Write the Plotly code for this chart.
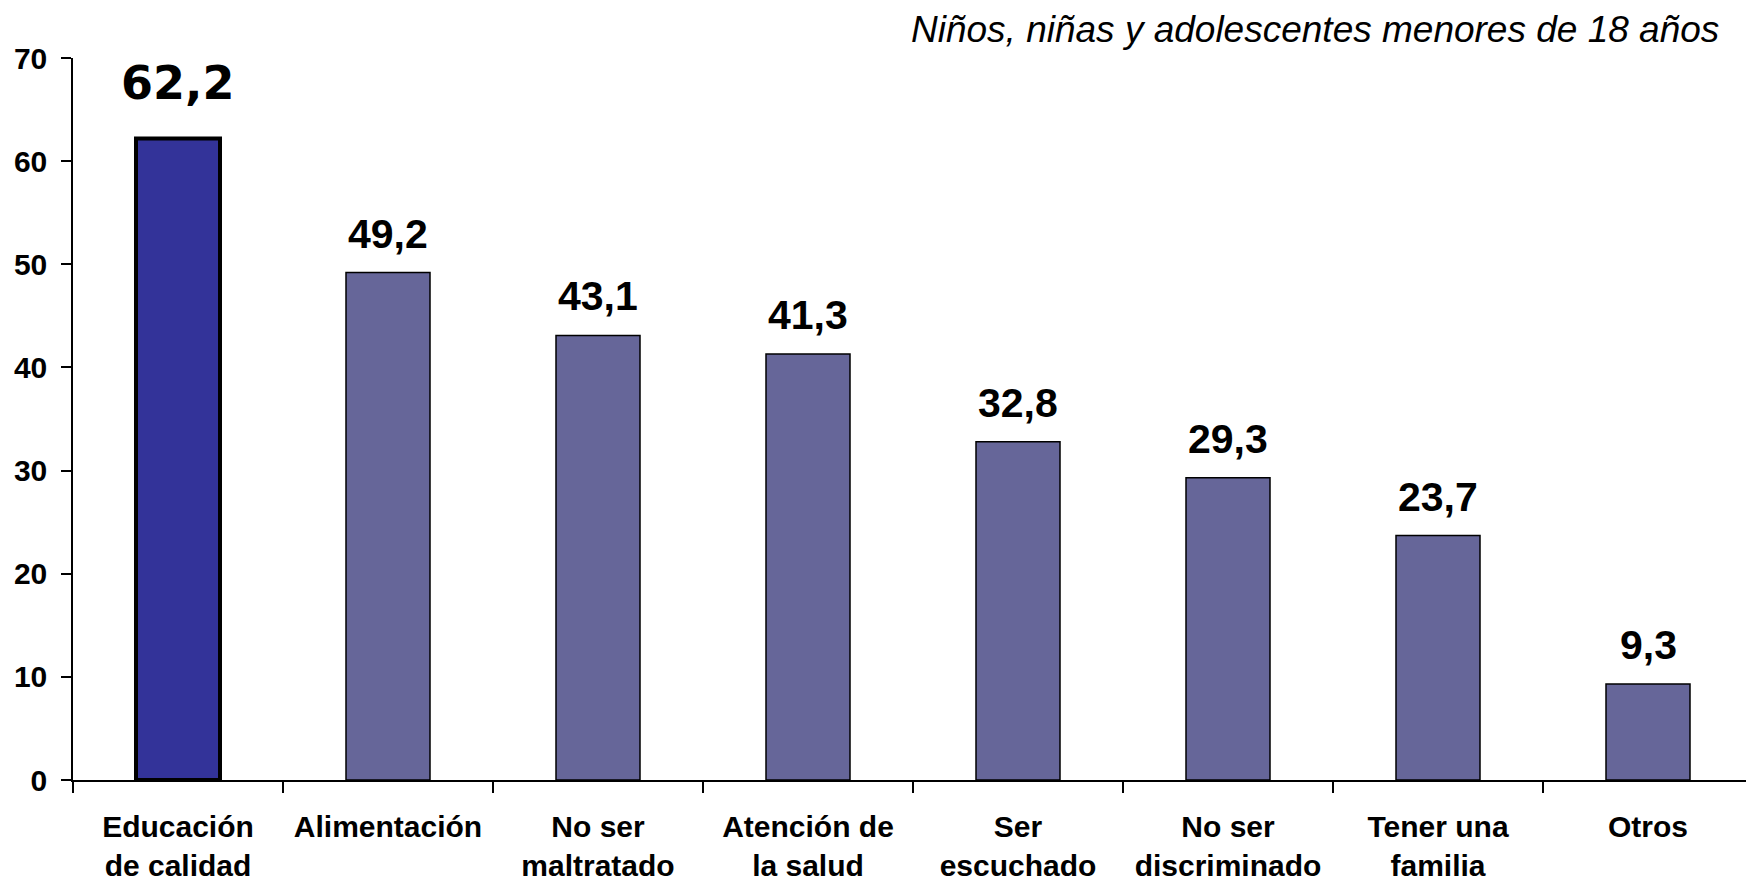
import plotly.graph_objects as go

categories = [
    "Educación<br>de calidad",
    "Alimentación",
    "No ser<br>maltratado",
    "Atención de<br>la salud",
    "Ser<br>escuchado",
    "No ser<br>discriminado",
    "Tener una<br>familia",
    "Otros",
]
values = [62.2, 49.2, 43.1, 41.3, 32.8, 29.3, 23.7, 9.3]
value_labels = ["62,2", "49,2", "43,1", "41,3", "32,8", "29,3", "23,7", "9,3"]
y_ticks = [0, 10, 20, 30, 40, 50, 60, 70]

bar_colors = ["#333399"] + ["#666699"] * (len(values) - 1)
line_widths = [4] + [1.5] * (len(values) - 1)

fig = go.Figure(
    go.Bar(
        x=categories,
        y=values,
        marker=dict(color=bar_colors, line=dict(color="black", width=line_widths)),
        width=0.4,
        hoverinfo="skip",
    )
)

# value labels above the bars; the first one is highlighted
for i, (cat, val, lab) in enumerate(zip(categories, values, value_labels)):
    if i == 0:
        font = dict(family="DejaVu Sans", size=46, color="black", weight="bold")
        shift = 26
    else:
        font = dict(family="Liberation Sans", size=41, color="black", weight="bold")
        shift = 14
    fig.add_annotation(
        x=cat, y=val, text=lab, showarrow=False,
        xanchor="center", yanchor="bottom", yshift=shift, font=font,
    )

fig.add_annotation(
    xref="paper", yref="paper", x=0.981, y=1, yshift=6,
    xanchor="right", yanchor="bottom", showarrow=False,
    text="<i>Niños, niñas y adolescentes menores de 18 años</i>",
    font=dict(family="Liberation Sans", size=37, color="black"),
)

fig.update_layout(
    width=1746,
    height=880,
    paper_bgcolor="white",
    plot_bgcolor="white",
    showlegend=False,
    margin=dict(l=65, r=1, t=50, b=108),
    font=dict(family="Liberation Sans", color="black"),
)
fig.update_xaxes(
    type="category",
    tickson="boundaries",
    ticks="outside",
    ticklen=11,
    tickwidth=1.5,
    tickcolor="black",
    showline=True,
    linecolor="black",
    linewidth=2,
    showgrid=False,
    automargin=False,
    tickfont=dict(size=30, weight="bold"),
    ticklabelstandoff=19,
)
fig.update_yaxes(
    range=[0, 70],
    tickvals=y_ticks,
    ticks="outside",
    ticklen=10,
    tickwidth=1.5,
    tickcolor="black",
    showline=True,
    linecolor="black",
    linewidth=1.5,
    showgrid=False,
    zeroline=False,
    automargin=False,
    tickfont=dict(size=30, weight="bold"),
    ticklabelstandoff=8,
)

fig.write_html("out.html")
